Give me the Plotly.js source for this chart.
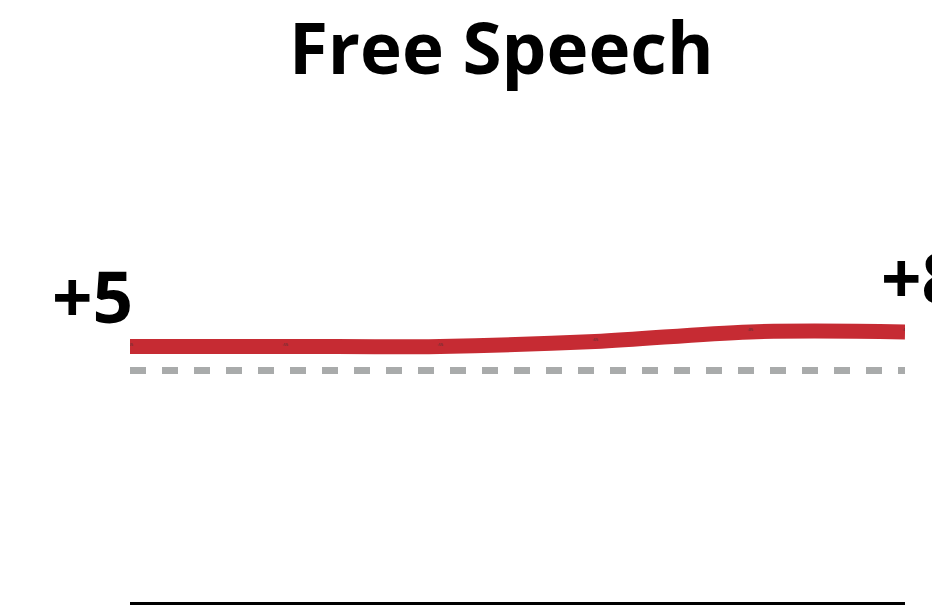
<!DOCTYPE html>
<html>
<head>
<meta charset="utf-8">
<script src="https://cdn.plot.ly/plotly-3.0.1.min.js"></script>
<style>html,body{margin:0;padding:0;background:#fff;}#chart{width:932px;height:605px;}</style>
</head>
<body>
<div id="chart"></div>
<script>
const periods = [1, 2, 3, 4, 5, 6];
const netScore = [5, 5, 5, 6, 8, 8];
const baseline = [0, 0, 0, 0, 0, 0];
const pointLabels = ["+5%", "+5%", "+5%", "+6%", "+8%", "+8%"];
const endLabels = ["+5", "+8"];
const chartTitle = "Free Speech";

const traces = [
  {
    x: periods, y: baseline, mode: "lines", hoverinfo: "skip",
    line: {color: "#a9abab", width: 7, dash: "16px,16px"}
  },
  {
    x: periods, y: netScore, mode: "lines+text", hoverinfo: "skip",
    line: {color: "#c62b33", width: 15, shape: "spline", smoothing: 1},
    text: pointLabels, textposition: "top center",
    textfont: {size: 3, color: "#333"}
  }
];

const layout = {
  width: 932, height: 605,
  margin: {l: 130, r: 27, t: 139, b: 3},
  paper_bgcolor: "#fff", plot_bgcolor: "#fff",
  showlegend: false,
  title: {
    text: "<b>" + chartTitle + "</b>",
    font: {family: "Open Sans", size: 71, color: "#000"},
    x: 0.479, xref: "paper", xanchor: "center",
    y: 1 - 49/605, yref: "container", yanchor: "middle", pad: {t: 0, b: 0}
  },
  xaxis: {
    range: [periods[0], periods[periods.length - 1]],
    showgrid: false, zeroline: false, showticklabels: false, ticks: "",
    showline: true, linecolor: "#000", linewidth: 2.5, fixedrange: true
  },
  yaxis: {
    range: [-48, 48], visible: false, showgrid: false, zeroline: false, fixedrange: true
  },
  annotations: [
    {
      x: periods[0], y: netScore[0], xref: "x", yref: "y",
      text: "<b>" + endLabels[0] + "</b>", showarrow: false,
      xanchor: "right", yanchor: "bottom", xshift: 5, yshift: 0,
      font: {family: "Open Sans", size: 71, color: "#000"}
    },
    {
      x: periods[periods.length - 1], y: netScore[netScore.length - 1], xref: "x", yref: "y",
      text: "<b>" + endLabels[1] + "</b>", showarrow: false,
      xanchor: "left", yanchor: "bottom", xshift: -26, yshift: 5,
      font: {family: "Open Sans", size: 71, color: "#000"}
    }
  ]
};

Plotly.newPlot("chart", traces, layout, {displayModeBar: false, staticPlot: true});
</script>
</body>
</html>
